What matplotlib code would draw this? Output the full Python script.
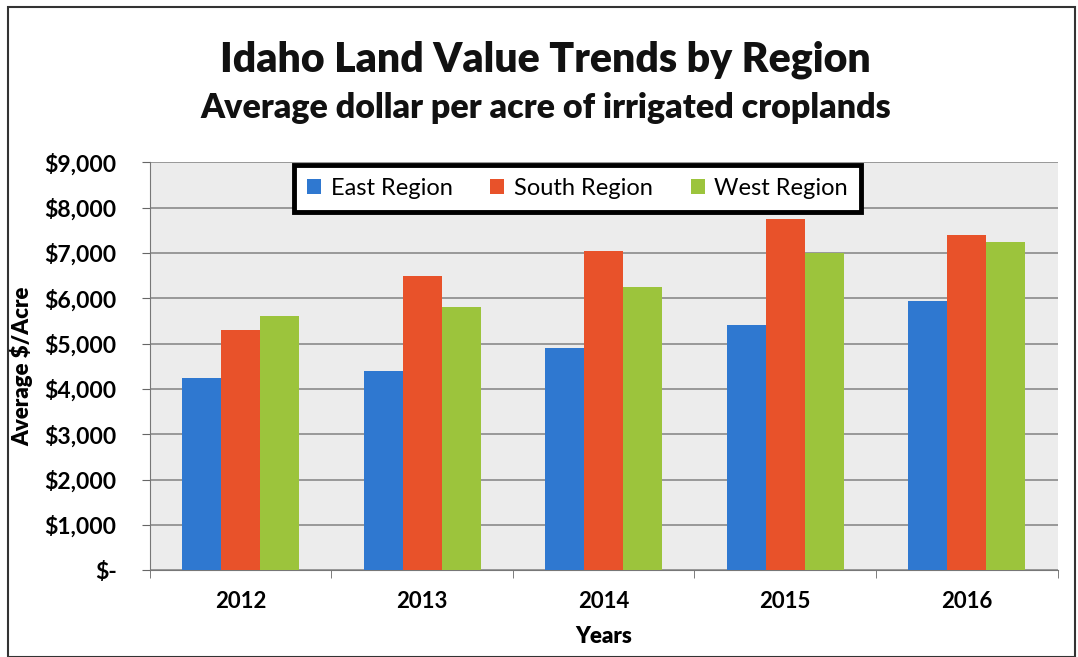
import matplotlib
matplotlib.use('Agg')
import matplotlib.pyplot as plt
import numpy as np

plt.rcParams['font.family'] = ['Lato', 'DejaVu Sans']

years = ['2012', '2013', '2014', '2015', '2016']
east = [4250, 4400, 4900, 5400, 5950]
south = [5300, 6500, 7050, 7750, 7400]
west = [5600, 5800, 6250, 7000, 7250]

colors = ['#2f78d0', '#e8522a', '#9cc43c']
names = ['East Region', 'South Region', 'West Region']

fig = plt.figure(figsize=(10.78, 6.57), dpi=100)
ax = fig.add_axes([0.139, 0.132, 0.842, 0.621])
ax.set_facecolor('#ececec')

x = np.arange(len(years))
w = 0.215
for i, (vals, c, n) in enumerate(zip([east, south, west], colors, names)):
    ax.bar(x + (i - 1) * w, vals, w, color=c, label=n, zorder=3)

ax.set_xlim(-0.5, len(years) - 0.5)
ax.set_ylim(0, 9000)
ax.set_yticks(np.arange(0, 9001, 1000))
ax.set_yticklabels(['$-'] + ['${:,}'.format(v) for v in range(1000, 9001, 1000)],
                   fontsize=16.5, fontweight='bold')
ax.set_xticks(x)
ax.set_xticklabels(years, fontsize=16, fontweight='bold')
ax.set_xticks(np.arange(-0.5, len(years)), minor=True)
ax.tick_params(axis='x', which='major', length=0, pad=15)
ax.tick_params(axis='x', which='minor', length=6, color='#666666')
ax.tick_params(axis='y', which='major', length=6, color='#666666', pad=18)
ax.grid(axis='y', color='#8a8a8a', linewidth=1.2, zorder=0)
for s in ['top', 'right']:
    ax.spines[s].set_visible(False)
ax.spines['left'].set_color('#777777')
ax.spines['bottom'].set_color('#777777')

ax.set_xlabel('Years', fontsize=16, fontweight='heavy', labelpad=10)
ax.set_ylabel('Average $/Acre', fontsize=16, fontweight='heavy', labelpad=8)

leg = ax.legend(loc='upper center', bbox_to_anchor=(0.471, 0.993), ncol=3,
                fontsize=17, frameon=True, fancybox=False, handlelength=0.6,
                handleheight=0.6, columnspacing=1.6, handletextpad=0.4,
                borderpad=0.55, borderaxespad=0)
leg.get_frame().set_edgecolor('black')
leg.get_frame().set_linewidth(3.5)
leg.get_frame().set_facecolor('white')
leg.get_frame().set_alpha(1)

fig.text(0.506, 0.909, 'Idaho Land Value Trends by Region', ha='center', va='center',
         fontsize=29.5, fontweight='heavy', color='#111111')
fig.text(0.506, 0.835, 'Average dollar per acre of irrigated croplands', ha='center',
         va='center', fontsize=24.5, fontweight='heavy', color='#111111')

fig.patches.append(plt.Rectangle((0.007, 0.0), 0.99, 0.99, transform=fig.transFigure,
                                 fill=False, edgecolor='#333333', linewidth=1.5))

fig.savefig('out.png', dpi=100)
